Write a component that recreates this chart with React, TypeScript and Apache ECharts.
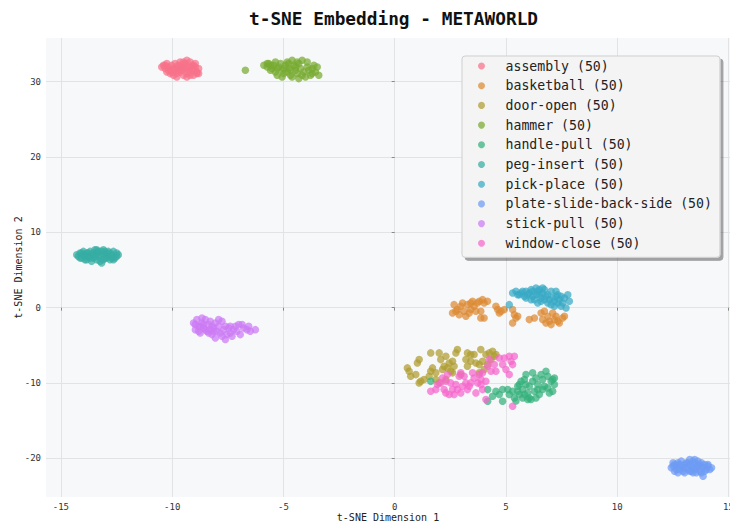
import React, { useEffect, useRef } from "react";
import * as echarts from "echarts";

const categories = [
  "assembly",
  "basketball",
  "door-open",
  "hammer",
  "handle-pull",
  "peg-insert",
  "pick-place",
  "plate-slide-back-side",
  "stick-pull",
  "window-close",
];

const colors = [
  "#f77189", "#dc8932", "#ae9d31", "#77ab31", "#33b07a",
  "#36ada4", "#38a9c5", "#6e9bf4", "#cc7af4", "#f565cc",
];

const assembly = [
  [-10.47, 31.96], [-10.39, 32.18], [-10.32, 31.74], [-10.24, 32.4], [-10.17, 31.96],
  [-10.09, 31.52], [-10.02, 32.18], [-9.94, 31.74], [-9.87, 32.4], [-9.79, 31.96],
  [-9.72, 31.52], [-9.64, 32.62], [-9.56, 32.18], [-9.49, 31.74], [-9.41, 32.4],
  [-9.34, 32.84], [-9.26, 31.96], [-9.19, 32.62], [-9.11, 32.18], [-9.04, 31.52],
  [-8.96, 31.96], [-8.89, 31.3], [-8.81, 31.74], [-10.24, 31.3], [-10.09, 31.08],
  [-9.94, 30.86], [-9.79, 31.08], [-9.64, 31.3], [-9.49, 30.86], [-9.34, 31.08],
  [-9.19, 30.86], [-9.04, 30.86], [-8.89, 31.08], [-9.87, 31.52], [-9.56, 31.52],
  [-9.26, 31.52], [-9.41, 31.96], [-9.72, 32.18], [-9.11, 31.74], [-10.02, 31.3],
  [-10.17, 31.52], [-8.96, 32.4], [-9.34, 30.63], [-8.81, 31.08], [-10.32, 32.18],
  [-9.49, 32.62], [-9.79, 30.63], [-9.19, 31.3], [-9.04, 32.18], [-9.64, 31.74],
];

const basketball = [
  [2.67, 0.4], [2.6, -0.71], [2.82, -0.26], [2.9, -0.93], [2.97, 0.18],
  [3.05, 0.62], [3.12, -0.49], [3.2, -1.15], [3.27, 0.4], [3.42, 0.62],
  [3.5, 0.84], [3.57, 0.18], [3.42, -0.26], [3.72, 0.62], [3.8, 0.84],
  [3.87, -0.49], [3.95, 1.06], [4.02, 0.62], [4.17, 0.84], [3.87, -1.37],
  [4.02, -1.37], [4.55, 0.18], [4.63, -0.26], [4.7, -0.71], [4.78, -0.49],
  [4.93, -0.26], [5.3, -0.26], [5.38, -0.93], [5.45, -1.37], [5.3, -2.03],
  [5.53, -1.15], [6.05, -1.59], [6.28, -1.37], [6.58, -0.71], [6.65, -1.59],
  [6.73, -0.49], [6.88, -1.15], [6.8, -2.03], [6.95, -1.81], [7.03, -2.25],
  [7.18, -1.59], [7.25, -1.15], [7.33, -1.81], [7.4, -2.03], [7.55, -1.37],
  [7.63, -1.15], [7.1, -0.71], [2.75, -0.49], [3.35, -0.71], [3.65, -0.49],
];

const doorOpen = [
  [0.57, -8.0], [0.72, -9.11], [0.65, -8.44], [1.02, -7.34], [1.1, -6.9],
  [1.17, -9.77], [1.1, -9.99], [1.32, -9.55], [1.62, -6.01], [1.7, -8.0],
  [1.62, -8.44], [1.85, -8.66], [2.0, -6.01], [2.07, -6.9], [2.3, -6.45],
  [2.22, -7.78], [2.37, -8.0], [2.45, -7.34], [2.6, -7.12], [2.67, -7.78],
  [2.75, -6.01], [2.82, -5.57], [2.6, -8.66], [2.52, -8.44], [2.15, -8.22],
  [2.3, -9.55], [3.27, -6.01], [3.42, -6.23], [3.57, -6.23], [3.87, -5.57],
  [3.27, -7.78], [3.42, -7.12], [3.65, -7.34], [3.8, -7.56], [3.95, -7.12],
  [4.1, -6.23], [4.25, -6.01], [4.4, -5.79], [4.48, -6.45], [4.33, -6.9],
  [4.55, -6.23], [3.8, -8.66], [4.02, -8.22], [1.85, -9.55], [2.0, -9.99],
  [0.95, -8.89], [1.55, -9.11], [2.97, -8.89], [4.18, -7.56], [3.2, -6.9],
];

const hammer = [
  [-6.71, 31.52], [-5.88, 32.18], [-5.73, 31.96], [-5.66, 32.4], [-5.51, 31.74],
  [-5.43, 32.18], [-5.36, 31.3], [-5.28, 30.86], [-5.21, 31.96], [-5.13, 32.4],
  [-5.06, 31.52], [-4.98, 31.08], [-4.91, 32.18], [-4.83, 32.62], [-4.76, 31.74],
  [-4.68, 30.86], [-4.61, 32.84], [-4.53, 32.18], [-4.46, 31.52], [-4.38, 31.08],
  [-4.31, 32.4], [-4.23, 31.74], [-4.16, 32.84], [-4.08, 31.3], [-4.01, 30.63],
  [-3.93, 31.96], [-3.86, 31.52], [-3.78, 30.86], [-3.71, 31.74], [-3.56, 31.3],
  [-3.48, 31.96], [-3.41, 30.86], [-5.58, 31.52], [-5.36, 32.62], [-5.06, 30.63],
  [-4.83, 31.3], [-4.61, 30.63], [-4.38, 32.62], [-4.16, 30.86], [-3.93, 32.62],
  [-3.71, 31.08], [-4.46, 31.96], [-4.76, 32.4], [-4.98, 31.74], [-5.28, 31.74],
  [-5.73, 32.4], [-4.31, 30.41], [-3.63, 32.18], [-5.58, 32.18], [-4.68, 31.52],
];

const handlePull = [
  [1.62, -9.77], [4.18, -10.88], [4.55, -11.1], [4.85, -10.88], [4.85, -12.42],
  [4.18, -12.42], [5.3, -11.1], [5.38, -11.98], [5.53, -10.43], [5.68, -9.77],
  [5.75, -10.88], [5.83, -9.55], [5.9, -10.21], [5.98, -11.32], [5.75, -11.98],
  [6.05, -11.98], [6.2, -9.77], [6.35, -9.33], [6.43, -10.88], [6.5, -11.54],
  [6.65, -9.55], [6.58, -8.89], [6.8, -8.44], [6.88, -9.11], [7.03, -9.77],
  [7.1, -9.55], [7.18, -10.21], [7.1, -11.1], [6.95, -11.32], [6.05, -10.43],
  [6.28, -11.1], [5.83, -11.54], [5.6, -11.54], [6.13, -12.2], [5.98, -12.2],
  [5.15, -11.54], [5.45, -12.4], [4.4, -11.76], [4.7, -11.54], [5.08, -10.88],
  [6.43, -10.21], [6.73, -10.43], [6.2, -8.66], [5.9, -8.89], [7.18, -9.33],
  [6.65, -10.88], [6.88, -10.65], [5.53, -11.1], [6.35, -11.98], [5.6, -10.2],
];

const pegInsert = [
  [-14.29, 7.03], [-14.22, 6.81], [-14.14, 7.25], [-14.07, 6.59], [-13.99, 7.03],
  [-13.92, 6.37], [-13.84, 7.25], [-13.77, 6.81], [-13.69, 7.47], [-13.62, 7.03],
  [-13.54, 6.59], [-13.47, 7.69], [-13.39, 7.25], [-13.32, 6.81], [-13.24, 6.15],
  [-13.17, 7.47], [-13.09, 7.03], [-13.02, 6.59], [-12.94, 7.25], [-12.87, 6.81],
  [-12.79, 6.37], [-12.72, 7.03], [-12.64, 7.47], [-12.57, 6.59], [-12.49, 7.25],
  [-12.42, 7.03], [-14.14, 6.59], [-13.99, 7.47], [-13.84, 6.37], [-13.69, 6.59],
  [-13.54, 7.25], [-13.39, 6.37], [-13.24, 7.03], [-13.09, 6.37], [-12.94, 6.59],
  [-12.79, 7.25], [-12.64, 6.37], [-13.62, 6.15], [-13.32, 7.47], [-13.02, 7.47],
  [-13.77, 7.25], [-13.17, 5.92], [-12.87, 7.47], [-13.47, 6.81], [-14.07, 7.25],
  [-12.72, 6.59], [-13.92, 6.81], [-13.39, 7.69], [-13.09, 7.69], [-12.49, 6.81],
];

const pickPlace = [
  [5.15, 0.4], [5.3, 1.95], [5.45, 2.17], [5.6, 1.72], [5.68, 1.95],
  [5.83, 1.5], [5.9, 2.17], [6.05, 1.95], [6.13, 2.39], [6.2, 1.5],
  [6.28, 1.06], [6.35, 2.61], [6.43, 2.17], [6.5, 1.72], [6.58, 1.28],
  [6.65, 1.95], [6.73, 2.39], [6.8, 1.5], [6.88, 1.72], [6.95, 1.06],
  [7.03, 2.17], [7.1, 1.28], [7.18, 0.84], [7.25, 1.5], [7.25, 2.17],
  [7.33, 0.62], [7.4, 1.06], [7.48, 0.18], [7.55, 0.62], [7.63, 1.28],
  [7.7, -0.04], [7.78, 1.72], [7.85, 0.84], [5.98, 1.72], [6.13, 1.06],
  [6.43, 0.62], [6.58, 0.84], [6.73, 1.06], [6.35, 1.72], [6.5, 2.39],
  [6.88, 0.62], [7.03, 0.4], [7.18, 0.18], [5.9, 1.28], [5.75, 2.17],
  [5.53, 1.72], [6.2, 2.17], [6.65, 2.61], [7.48, 1.5], [7.33, 1.72],
];

const plateSlideBackSide = [
  [12.43, -21.26], [12.51, -20.6], [12.58, -21.71], [12.66, -21.04], [12.73, -20.6],
  [12.81, -21.49], [12.88, -20.38], [12.96, -21.26], [13.03, -21.93], [13.11, -20.6],
  [13.18, -21.49], [13.26, -20.16], [13.33, -21.04], [13.41, -21.93], [13.48, -20.6],
  [13.56, -21.26], [13.63, -20.38], [13.71, -21.71], [13.78, -21.04], [13.86, -22.37],
  [13.93, -20.82], [14.01, -21.49], [14.08, -21.04], [14.16, -21.49], [14.24, -21.26],
  [12.58, -20.82], [12.73, -21.93], [12.88, -21.04], [13.03, -20.82], [13.18, -20.6],
  [13.33, -21.71], [13.48, -21.49], [13.63, -21.04], [13.78, -21.93], [13.93, -21.71],
  [14.08, -20.82], [12.81, -20.82], [12.96, -21.71], [13.11, -21.26], [13.26, -20.82],
  [13.41, -20.38], [13.56, -21.93], [13.71, -20.82], [13.86, -21.26], [12.66, -21.49],
  [12.51, -21.04], [13.48, -20.16], [13.78, -20.6], [13.26, -21.71], [13.41, -21.26],
];

const stickPull = [
  [-9.04, -2.03], [-8.96, -2.92], [-8.89, -1.59], [-8.81, -2.48], [-8.74, -3.36],
  [-8.66, -2.03], [-8.59, -2.7], [-8.51, -1.59], [-8.44, -3.14], [-8.36, -2.25],
  [-8.29, -1.81], [-8.21, -3.58], [-8.14, -2.7], [-8.06, -2.03], [-7.99, -3.14],
  [-7.91, -2.48], [-7.84, -3.36], [-7.76, -1.81], [-7.69, -2.92], [-7.61, -2.48],
  [-7.54, -3.58], [-7.46, -2.7], [-7.39, -2.48], [-7.31, -3.8], [-7.24, -2.92],
  [-7.16, -2.48], [-7.09, -3.14], [-7.01, -2.25], [-6.94, -3.58], [-6.86, -2.25],
  [-6.79, -2.7], [-6.64, -2.92], [-6.56, -2.48], [-6.49, -3.14], [-6.26, -2.92],
  [-8.96, -2.25], [-8.81, -3.14], [-8.66, -1.37], [-8.51, -2.92], [-8.36, -3.36],
  [-8.21, -2.48], [-8.06, -4.02], [-7.91, -1.59], [-7.76, -3.8], [-7.61, -4.24],
  [-8.74, -2.48], [-8.14, -3.14], [-8.29, -2.92], [-8.59, -2.25], [-7.39, -3.36],
];

const windowClose = [
  [4.7, -6.68], [4.93, -6.68], [5.15, -6.45], [5.38, -6.45], [5.23, -7.12],
  [5.3, -7.56], [5.15, -8.89], [5.0, -8.22], [4.55, -8.44], [4.33, -8.44],
  [4.18, -7.78], [3.95, -8.66], [3.8, -8.89], [3.88, -9.55], [3.73, -9.99],
  [3.57, -9.33], [3.42, -9.99], [3.2, -9.99], [3.27, -10.88], [3.65, -11.32],
  [2.97, -8.66], [2.9, -9.11], [3.12, -9.11], [2.75, -10.21], [2.6, -10.88],
  [2.52, -9.99], [2.3, -9.77], [2.15, -9.33], [2.07, -9.99], [2.22, -10.88],
  [1.92, -10.21], [1.85, -10.88], [1.62, -11.1], [2.3, -11.32], [2.45, -11.54],
  [2.67, -11.54], [2.82, -10.88], [3.05, -10.43], [3.35, -10.43], [3.95, -10.88],
  [4.1, -12.2], [5.3, -13.09], [4.25, -6.9], [4.48, -7.56], [4.85, -7.56],
  [4.1, -9.77], [3.5, -8.66], [2.37, -8.89], [2.97, -11.32], [3.88, -10.21],
];

const seriesData = [
  assembly, basketball, doorOpen, hammer, handlePull,
  pegInsert, pickPlace, plateSlideBackSide, stickPull, windowClose,
];

const titleText = "t-SNE Embedding - METAWORLD";
const xAxisName = "t-SNE Dimension 1";
const yAxisName = "t-SNE Dimension 2";
const xRange = [-15.67, 15.07];
const yRange = [-25.14, 35.8];

const MONO = "'DejaVu Sans Mono', monospace";

export default function App() {
  const ref = useRef<HTMLDivElement>(null);
  useEffect(() => {
    if (!ref.current) return;
    const chart = echarts.init(ref.current, null, { renderer: "svg" });
    const option: any = {
      animation: false,
      backgroundColor: "#ffffff",
      title: {
        text: titleText,
        left: 249,
        top: 9,
        padding: 0,
        textStyle: {
          fontFamily: MONO,
          fontSize: 17.8,
          fontWeight: "bold",
          color: "#111111",
        },
      },
      grid: {
        left: 46,
        right: 0,
        top: 38,
        bottom: 26,
        containLabel: false,
        outerBoundsMode: "none",
        show: true,
        backgroundColor: "#f7f8fa",
        borderWidth: 0,
      },
      legend: {
        orient: "vertical",
        left: 462,
        top: 56,
        padding: [3, 8, 7, 16],
        itemWidth: 38,
        itemHeight: 7,
        itemGap: 5.7,
        icon: "circle",
        backgroundColor: "#f4f4f4",
        borderColor: "#cfcfcf",
        borderWidth: 1,
        borderRadius: 3,
        shadowColor: "rgba(0,0,0,0.35)",
        shadowBlur: 0,
        shadowOffsetX: 3,
        shadowOffsetY: 3,
        textStyle: {
          fontFamily: MONO,
          fontSize: 13.2,
          lineHeight: 14,
          color: "#222222",
        },
        data: categories.map((c, i) => `${c} (${seriesData[i].length})`),
      },
      xAxis: {
        type: "value",
        min: xRange[0],
        max: xRange[1],
        splitNumber: 6,
        name: xAxisName,
        nameLocation: "middle",
        nameGap: 15,
        nameMoveOverlap: false,
        nameTextStyle: { fontFamily: MONO, fontSize: 10, color: "#222222" },
        axisLine: { show: false },
        axisTick: { show: true, length: 3, lineStyle: { color: "#888888" } },
        axisLabel: {
          fontFamily: MONO,
          fontSize: 9,
          color: "#333333",
          margin: 5,
          showMinLabel: false,
          showMaxLabel: false,
        },
        splitLine: {
          show: true,
          showMinLine: false,
          showMaxLine: false,
          lineStyle: { color: "#e2e3e5", width: 1 },
        },
      },
      yAxis: {
        type: "value",
        min: yRange[0],
        max: yRange[1],
        name: yAxisName,
        nameLocation: "middle",
        nameGap: 23,
        nameMoveOverlap: false,
        nameTextStyle: { fontFamily: MONO, fontSize: 10, color: "#222222" },
        axisLine: { show: false },
        axisTick: { show: true, length: 3, lineStyle: { color: "#888888" } },
        axisLabel: {
          fontFamily: MONO,
          fontSize: 9,
          color: "#333333",
          margin: 5,
          showMinLabel: false,
          showMaxLabel: false,
        },
        splitLine: {
          show: true,
          showMinLine: false,
          showMaxLine: false,
          lineStyle: { color: "#e2e3e5", width: 1 },
        },
      },
      series: categories.map((c, i) => ({
        name: `${c} (${seriesData[i].length})`,
        type: "scatter",
        data: seriesData[i],
        symbol: "circle",
        symbolSize: 7.5,
        itemStyle: { color: colors[i], opacity: 0.72 },
        emphasis: { disabled: true },
      })),
    };
    chart.setOption(option);
    return () => chart.dispose();
  }, []);
  return (
    <div
      ref={ref}
      style={{ position: "absolute", left: 0, top: 0, width: 730, height: 523 }}
    />
  );
}
